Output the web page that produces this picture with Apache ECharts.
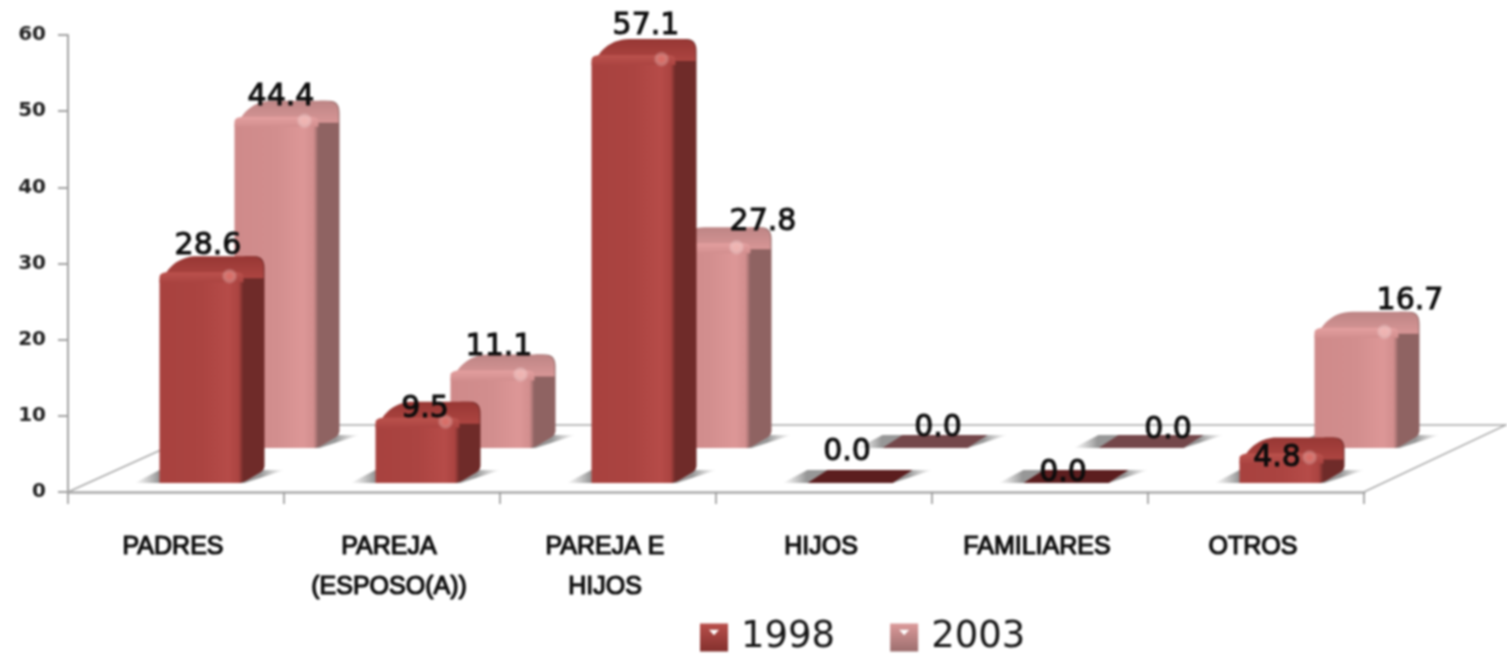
<!DOCTYPE html>
<html>
<head>
<meta charset="utf-8">
<title>1998 / 2003</title>
<script src="https://cdn.jsdelivr.net/npm/echarts@6/dist/echarts.min.js"></script>
<style>
  html, body { margin: 0; padding: 0; background: #fff; }
  #main { width: 1507px; height: 658px; filter: blur(0.8px); }
</style>
</head>
<body>
<div id="main"></div>
<script>
// data
const categories = ['PADRES', 'PAREJA\n(ESPOSO(A))', 'PAREJA E\nHIJOS', 'HIJOS', 'FAMILIARES', 'OTROS'];
const seriesNames = ['1998', '2003'];
const values1998 = [28.6, 9.5, 57.1, 0.0, 0.0, 4.8];
const values2003 = [44.4, 11.1, 27.8, 0.0, 0.0, 16.7];
const yTicks = { min: 0, max: 60, interval: 10 };

// hand placed data labels in the original, offset from the bar top
const labelNudge1998 = [[6, -19], [7, -1], [12, -22], [-3, -31], [-3, -10], [-5, 12]];
const labelNudge2003 = [[4, -13], [6, -16], [54, -14], [13, -20], [27, -18], [53, -20]];

const LinearGradient = echarts.graphic.LinearGradient;
const RadialGradient = echarts.graphic.RadialGradient;

// 3d look: how far a row sits from the axis, and the box depth
const BAR_W = 85, DEPTH_X = 20, DEPTH_Y = 13;

const row1998 = {
    dx: 26, lift: 9, nudge: labelNudge1998,
    faceL: '#a8423f', faceM: '#ab4441', faceR: '#b64b48',
    side: '#6f2b29', capBack: '#973734', capFront: '#ad4541', edge: '#bb524d',
    spot: '#e47a73', flat: '#5c1e1f'
};
const row2003 = {
    dx: 101, lift: 44, nudge: labelNudge2003,
    faceL: '#cf8a8a', faceM: '#d28e8e', faceR: '#dd9797',
    side: '#8f6362', capBack: '#bd8585', capFront: '#d89696', edge: '#e4a0a0',
    spot: '#f5bdba', flat: '#74474a'
};

// polygon with some corners rounded, radius per corner
function rounded(pts, radii) {
    const out = [];
    const n = pts.length;
    for (let i = 0; i < n; i++) {
        const p = pts[i], r = radii[i];
        if (!r) { out.push(p); continue; }
        const a = pts[(i + n - 1) % n], b = pts[(i + 1) % n];
        const la = Math.hypot(a[0] - p[0], a[1] - p[1]);
        const lb = Math.hypot(b[0] - p[0], b[1] - p[1]);
        const ra = Math.min(r, la / 2), rb = Math.min(r, lb / 2);
        const s = [p[0] + (a[0] - p[0]) * ra / la, p[1] + (a[1] - p[1]) * ra / la];
        const e = [p[0] + (b[0] - p[0]) * rb / lb, p[1] + (b[1] - p[1]) * rb / lb];
        for (let t = 0; t <= 1.001; t += 0.125) {
            const u = 1 - t;
            out.push([
                u * u * s[0] + 2 * u * t * p[0] + t * t * e[0],
                u * u * s[1] + 2 * u * t * p[1] + t * t * e[1]
            ]);
        }
    }
    return out;
}

function polygon(points, fill) {
    return { type: 'polygon', silent: true, shape: { points: points }, style: { fill: fill } };
}

function renderBar(row) {
    return function (params, api) {
        const idx = api.value(0), v = api.value(1);
        const x0 = api.coord([idx, 0])[0] + row.dx - BAR_W / 2;
        const x1 = x0 + BAR_W;
        const base = api.coord([idx, 0])[1] - row.lift;
        const top = api.coord([idx, v])[1] - row.lift;
        const children = [];

        // soft shadow on the floor
        children.push(polygon(
            [[x0 - 25, base], [x1, base], [x1 + 40, base - DEPTH_Y], [x0, base - DEPTH_Y]],
            new LinearGradient(0, 0, 1, 0, [
                { offset: 0, color: 'rgba(150,150,150,0)' },
                { offset: 0.16, color: 'rgba(125,125,125,0.8)' },
                { offset: 0.84, color: 'rgba(125,125,125,0.8)' },
                { offset: 1, color: 'rgba(150,150,150,0)' }
            ])
        ));

        if (v === 0) {
            children.push(polygon(
                [[x0, base], [x1, base], [x1 + DEPTH_X, base - DEPTH_Y], [x0 + DEPTH_X, base - DEPTH_Y]],
                row.flat
            ));
        } else {
            const yF = top + 7, yB = top - 9;
            // right side
            children.push(polygon(
                rounded([[x1 - 14, yF], [x1, yB], [x1 + DEPTH_X, yB], [x1 + DEPTH_X, base - DEPTH_Y], [x1 - 2, base], [x1 - 14, base]],
                    [0, 0, 12, 5, 5, 0]),
                row.side
            ));
            // cap
            children.push(polygon(
                rounded([[x0, yF + 6], [x0 + 22, yB], [x1 + DEPTH_X - 1, yB], [x1 + DEPTH_X - 1, yF + 6]],
                    [16, 16, 13, 0]),
                new LinearGradient(0, 0, 0, 1, [
                    { offset: 0, color: row.capBack },
                    { offset: 1, color: row.capFront }
                ])
            ));
            // front
            children.push(polygon(
                rounded([[x0, base], [x0, yF], [x1 - 1, yF], [x1 - 1, base]], [0, 10, 8, 6]),
                new LinearGradient(0, 0, 1, 0, [
                    { offset: 0, color: row.faceL },
                    { offset: 0.5, color: row.faceM },
                    { offset: 0.82, color: row.faceR },
                    { offset: 0.94, color: row.faceM },
                    { offset: 1, color: row.side }
                ])
            ));
            // lit bevel along the top of the front face
            children.push(polygon(
                rounded([[x0, yF + 10], [x0, yF], [x1 - 1, yF], [x1 - 1, yF + 10]], [0, 10, 8, 0]),
                new LinearGradient(0, 0, 0, 1, [
                    { offset: 0, color: row.edge },
                    { offset: 1, color: row.faceM }
                ])
            ));
            children.push({
                type: 'circle', silent: true,
                shape: { cx: x1 - 15, cy: yF + 4, r: 8 },
                style: {
                    fill: new RadialGradient(0.5, 0.5, 0.5, [
                        { offset: 0, color: row.spot },
                        { offset: 0.35, color: row.spot },
                        { offset: 1, color: 'rgba(255,255,255,0)' }
                    ]),
                    opacity: 0.75
                }
            });
        }

        const nudge = row.nudge[idx];
        children.push({
            type: 'text', silent: true,
            style: {
                x: x0 + BAR_W / 2 + nudge[0],
                y: top + nudge[1],
                text: v.toFixed(1),
                align: 'center',
                verticalAlign: 'middle',
                fill: '#0c0c0c',
                stroke: '#0c0c0c',
                lineWidth: 1,
                font: '30px "DejaVu Sans"'
            }
        });
        return { type: 'group', children: children };
    };
}

// floor plane drawn behind the bars
function renderFloor(params) {
    const c = params.coordSys;
    const bottom = c.y + c.height, right = c.x + c.width;
    const fx = 148, fy = 67;
    return {
        type: 'polygon', silent: true,
        shape: { points: [[c.x, bottom], [c.x + fx, bottom - fy], [right + fx - 6, bottom - fy], [right, bottom]] },
        style: { fill: '#fff', stroke: '#a8a8a8', lineWidth: 1.5 }
    };
}

var myChart = echarts.init(document.getElementById('main'));

const option = {
    animation: false,
    backgroundColor: '#fff',
    grid: { left: 68, right: 143, top: 35, bottom: 166, containLabel: false },
    legend: {
        data: seriesNames,
        left: 695,
        top: 614,
        itemWidth: 28,
        itemHeight: 28,
        itemGap: 55,
        icon: 'path://M0,0 H10 V10 H0 Z M3.2,2.2 L5,4.2 L6.8,2.2 Z',
        textStyle: { fontFamily: 'DejaVu Sans', fontSize: 37, color: '#161616', padding: [0, 0, 0, 8] }
    },
    xAxis: {
        type: 'category',
        data: categories,
        axisLine: { lineStyle: { color: '#bcbcbc', width: 3 } },
        axisTick: { show: true, length: 12, lineStyle: { color: '#8f8f8f', width: 1.5 } },
        axisLabel: {
            interval: 0,
            margin: 35,
            padding: [0, 6, 0, 0],
            fontFamily: 'Liberation Sans',
            fontSize: 25,
            lineHeight: 40,
            color: '#0e0e0e',
            textBorderColor: '#0e0e0e',
            textBorderWidth: 1.2
        }
    },
    yAxis: {
        type: 'value',
        min: yTicks.min,
        max: yTicks.max,
        interval: yTicks.interval,
        splitLine: { show: false },
        axisLine: { show: true, lineStyle: { color: '#a2a2a2', width: 2 } },
        axisTick: { show: true, length: 10, lineStyle: { color: '#a2a2a2', width: 2 } },
        axisLabel: { margin: 22, fontFamily: 'DejaVu Sans', fontSize: 20, fontWeight: 'bold', color: '#222' }
    },
    series: [
        {
            name: 'floor',
            type: 'custom',
            silent: true,
            renderItem: renderFloor,
            data: [[0, 0]],
            z: 1
        },
        {
            name: seriesNames[1],
            type: 'custom',
            renderItem: renderBar(row2003),
            encode: { x: 0, y: 1 },
            itemStyle: {
                color: new LinearGradient(0, 0, 0, 1, [
                    { offset: 0, color: '#dc9a9a' },
                    { offset: 1, color: '#9c6e6e' }
                ])
            },
            data: values2003.map((v, i) => [i, v]),
            z: 3
        },
        {
            name: seriesNames[0],
            type: 'custom',
            renderItem: renderBar(row1998),
            encode: { x: 0, y: 1 },
            itemStyle: {
                color: new LinearGradient(0, 0, 0, 1, [
                    { offset: 0, color: '#b94f4b' },
                    { offset: 1, color: '#83302d' }
                ])
            },
            data: values1998.map((v, i) => [i, v]),
            z: 4
        }
    ]
};

myChart.setOption(option);
</script>
</body>
</html>
